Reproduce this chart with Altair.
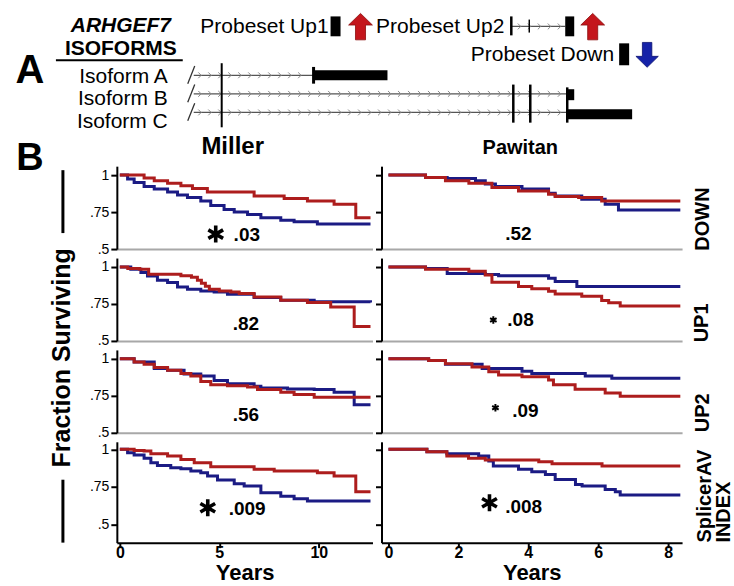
import altair as alt
import pandas as pd

FONT = "Liberation Sans"
RED = "#ad1d1d"
BLUE = "#1b1b84"

# ---------------- Panel B: Kaplan-Meier step data (years, fraction surviving) ----------------
miller_down_red_t  = [0, 1.22, 1.73, 2.40, 3.07, 3.65, 4.40, 6.75, 8.26, 9.43, 10.77, 11.86, 12.6]
miller_down_red_s  = [1, .980, .961, .945, .927, .909, .886, .859, .841, .825, .802, .711, .711]
miller_down_blue_t = [0, .39, .72, 1.22, 1.73, 2.40, 2.90, 3.40, 4.07, 4.57, 5.24, 5.75, 6.42, 7.09, 8.09, 8.76, 9.93, 12.6]
miller_down_blue_s = [1, .973, .950, .923, .905, .886, .866, .848, .825, .795, .768, .750, .734, .711, .695, .684, .670, .670]

pawitan_down_red_t  = [0, 1.06, 1.63, 2.30, 2.96, 3.72, 4.58, 4.77, 5.44, 6.10, 8.35]
pawitan_down_red_s  = [1, .984, .961, .945, .916, .893, .870, .855, .848, .825, .825]
pawitan_down_blue_t = [0, 1.06, 1.68, 2.49, 2.77, 3.06, 3.82, 4.58, 4.77, 5.53, 6.20, 6.58, 8.35]
pawitan_down_blue_s = [1, .984, .977, .961, .939, .923, .905, .877, .859, .836, .802, .764, .764]

miller_up1_red_t  = [0, .40, 1.00, 1.45, 3.07, 3.60, 3.90, 4.10, 4.30, 4.50, 5.00, 5.58, 6.00, 6.75, 8.09, 9.43, 10.60, 11.78, 12.6]
miller_up1_red_s  = [1, .990, .985, .950, .940, .930, .910, .890, .870, .850, .838, .831, .820, .797, .775, .759, .730, .597, .597]
miller_up1_blue_t = [0, .55, 1.06, 1.39, 1.89, 2.40, 2.90, 3.40, 4.07, 4.74, 5.41, 6.75, 8.09, 9.77, 12.6]
miller_up1_blue_s = [1, .984, .962, .939, .910, .894, .865, .849, .838, .831, .815, .793, .775, .764, .759]

pawitan_up1_red_t  = [0, 1.06, 2.30, 2.77, 2.96, 3.72, 4.10, 4.58, 4.77, 5.53, 6.10, 6.30, 6.63, 8.35]
pawitan_up1_red_s  = [1, .985, .971, .945, .896, .868, .852, .835, .817, .802, .773, .758, .736, .736]
pawitan_up1_blue_t = [0, 1.06, 1.68, 2.77, 3.15, 4.58, 4.77, 5.39, 8.35]
pawitan_up1_blue_s = [1, .989, .956, .949, .941, .923, .901, .868, .868]

miller_up2_red_t  = [0, .72, 1.22, 1.73, 2.40, 3.07, 3.57, 4.07, 4.57, 5.41, 6.42, 6.92, 8.09, 8.76, 9.77, 12.6]
miller_up2_red_s  = [1, .978, .963, .941, .923, .901, .884, .846, .825, .818, .809, .792, .774, .759, .741, .741]
miller_up2_blue_t = [0, .72, 1.73, 2.40, 3.23, 4.07, 4.74, 5.41, 6.75, 7.09, 8.43, 9.77, 10.77, 11.78, 12.6]
miller_up2_blue_s = [1, .978, .934, .923, .897, .884, .853, .831, .814, .803, .796, .792, .774, .689, .689]

pawitan_up2_red_t  = [0, 1.15, 1.63, 2.39, 2.87, 3.15, 3.82, 4.58, 4.72, 5.34, 6.20, 6.63, 8.35]
pawitan_up2_red_s  = [1, .989, .967, .945, .912, .890, .879, .857, .824, .795, .769, .747, .747]
pawitan_up2_blue_t = [0, 1.15, 1.63, 2.68, 3.82, 4.10, 5.63, 6.39, 8.35]
pawitan_up2_blue_s = [1, .989, .963, .934, .916, .901, .883, .868, .868]

miller_idx_red_t  = [0, .72, 1.22, 1.56, 2.40, 3.07, 3.74, 4.57, 6.75, 7.76, 9.93, 10.77, 11.86, 12.6]
miller_idx_red_s  = [1, .993, .989, .971, .956, .933, .911, .884, .867, .856, .844, .822, .718, .718]
miller_idx_blue_t = [0, .39, .72, 1.22, 1.56, 1.89, 2.56, 3.07, 3.57, 4.07, 4.41, 4.91, 5.75, 6.25, 7.09, 8.09, 8.76, 9.43, 12.6]
miller_idx_blue_s = [1, .978, .962, .940, .911, .893, .878, .871, .856, .844, .822, .796, .771, .756, .711, .689, .671, .656, .656]

pawitan_idx_red_t  = [0, 1.10, 1.67, 2.29, 2.77, 4.30, 4.68, 6.11, 8.35]
pawitan_idx_red_s  = [1, .984, .956, .940, .929, .918, .904, .889, .889]
pawitan_idx_blue_t = [0, 1.10, 1.67, 2.58, 2.87, 3.00, 3.72, 4.10, 4.49, 4.77, 5.35, 5.54, 6.20, 6.49, 6.63, 8.35]
pawitan_idx_blue_s = [1, .984, .971, .956, .922, .889, .867, .851, .833, .800, .767, .756, .733, .718, .696, .696]

# p-values (one per panel, row-major: Miller, Pawitan for DOWN, UP1, UP2, INDEX)
pval_labels = [".03", ".52", ".82", ".08", ".56", ".09", ".009", ".008"]
pval_t = [5.72, 3.34, 5.67, 3.40, 5.67, 3.54, 5.47, 3.34]
pval_s = [0.554, 0.561, 0.574, 0.601, 0.581, 0.608, 0.566, 0.579]
# significance stars
star_panel = [0, 3, 5, 6, 7]
star_t = [4.82, 3.00, 3.06, 4.42, 2.89]
star_s = [0.601, 0.642, 0.669, 0.612, 0.645]
star_big = [True, False, False, True, True]

miller_ticks = [0, 5, 10]
pawitan_ticks = [0, 2, 4, 6, 8]

ASTERISK = "M0,-1L0,1M-0.87,-0.5L0.87,0.5M-0.87,0.5L0.87,-0.5"
UP_ARROW = "M0,-1L0.9,-0.12L0.38,-0.12L0.38,1L-0.38,1L-0.38,-0.12L-0.9,-0.12Z"
DOWN_ARROW = "M0,1L0.9,0.12L0.38,0.12L0.38,-1L-0.38,-1L-0.38,0.12L-0.9,0.12Z"
CHEVRON = "M-0.45,-0.9L0.45,0L-0.45,0.9"

panels = [
    (miller_down_red_t, miller_down_red_s, miller_down_blue_t, miller_down_blue_s),
    (pawitan_down_red_t, pawitan_down_red_s, pawitan_down_blue_t, pawitan_down_blue_s),
    (miller_up1_red_t, miller_up1_red_s, miller_up1_blue_t, miller_up1_blue_s),
    (pawitan_up1_red_t, pawitan_up1_red_s, pawitan_up1_blue_t, pawitan_up1_blue_s),
    (miller_up2_red_t, miller_up2_red_s, miller_up2_blue_t, miller_up2_blue_s),
    (pawitan_up2_red_t, pawitan_up2_red_s, pawitan_up2_blue_t, pawitan_up2_blue_s),
    (miller_idx_red_t, miller_idx_red_s, miller_idx_blue_t, miller_idx_blue_s),
    (pawitan_idx_red_t, pawitan_idx_red_s, pawitan_idx_blue_t, pawitan_idx_blue_s),
]


def km_panel(i):
    red_t, red_s, blue_t, blue_s = panels[i]
    row, col = divmod(i, 2)
    bottom = row == 3
    left = col == 0
    xdom = [-0.15, 12.7] if left else [-0.2, 8.4]
    width = 256 if left else 301
    ydom = [0.38, 1.05] if bottom else [0.5, 1.06]
    height = 101 if bottom else 83
    xs = alt.Scale(domain=xdom, nice=False, zero=False)
    ys = alt.Scale(domain=ydom, nice=False, zero=False)
    if bottom:
        xa = alt.Axis(values=miller_ticks if left else pawitan_ticks, format="d", title="Years",
                      grid=False, domainColor="black", domainWidth=2, tickColor="black",
                      tickWidth=2, tickSize=5, labelFontSize=16, labelFontWeight="bold",
                      labelColor="black", labelPadding=-3, labelFont=FONT,
                      titleFont=FONT, titleFontSize=22, titleFontWeight="bold",
                      titleColor="black", titlePadding=2)
    else:
        xa = alt.Axis(labels=False, ticks=False, grid=False, title=None,
                      domainColor="#a8a8a8", domainWidth=2)
    ya = alt.Axis(values=[0.5, 0.75, 1], labels=left,
                  labelExpr="datum.value == 1 ? '1' : replace(toString(datum.value), '0.', '.')",
                  grid=False, title=None, domainColor="black", domainWidth=2,
                  tickColor="black", tickWidth=2, tickSize=6, labelFontSize=14,
                  labelFont=FONT, labelColor="black", labelPadding=2)

    def curve(t, s, color):
        return alt.Chart(pd.DataFrame({"t": t, "s": s})).mark_line(
            interpolate="step-after", color=color, strokeWidth=3
        ).encode(x=alt.X("t:Q", scale=xs, axis=xa), y=alt.Y("s:Q", scale=ys, axis=ya))

    layers = [curve(blue_t, blue_s, BLUE), curve(red_t, red_s, RED)]
    pv = pd.DataFrame({"t": [pval_t[i]], "s": [pval_s[i]], "label": [pval_labels[i]]})
    layers.append(alt.Chart(pv).mark_text(align="left", baseline="alphabetic", font=FONT,
                                          fontSize=19, fontWeight="bold", color="black")
                  .encode(x=alt.X("t:Q", scale=xs), y=alt.Y("s:Q", scale=ys), text="label:N"))
    if i in star_panel:
        k = star_panel.index(i)
        st = pd.DataFrame({"t": [star_t[k]], "s": [star_s[k]],
                           "sz": [289 if star_big[k] else 56],
                           "sw": [3.6 if star_big[k] else 2.0]})
        layers.append(alt.Chart(st).mark_point(shape=ASTERISK, filled=False, color="black",
                                               opacity=1)
                      .encode(x=alt.X("t:Q", scale=xs), y=alt.Y("s:Q", scale=ys),
                              size=alt.Size("sz:Q", scale=None, legend=None),
                              strokeWidth=alt.StrokeWidth("sw:Q", scale=None, legend=None)))
    return alt.layer(*layers).properties(width=width, height=height)


# ---------------- Panel A: isoform schematic (positions in schematic units) ----------------
iso_row = [0, 1, 2]
iso_names = ["Isoform A", "Isoform B", "Isoform C"]
intron_u1 = [15.4, 15.4, 15.4, 79.0]
intron_u2 = [39.4, 90.2, 90.2, 89.8]
intron_row = [0, 1, 2, -2.63]
chev_start = [16.6, 16.6, 16.6, 80.6]
exon_u1 = [39.4, 90.2, 90.2, 42.8, 89.8, 100.6]
exon_u2 = [54.2, 91.6, 103.2, 44.8, 91.6, 102.6]
exon_r1 = [-0.27, 0.75, 1.83, -3.17, -3.17, -1.72]
exon_r2 = [0.27, 1.34, 2.37, -2.10, -2.10, -0.54]
mark_u = [21.0, 79.4, 82.8, 90.2, 39.4, 79.0, 82.6]
mark_r1 = [-0.65, 0.50, 0.50, 0.65, -0.45, -3.17, -3.00]
mark_r2 = [2.80, 2.55, 2.55, 2.55, 0.45, -2.15, -2.30]
mark_w = [2.0, 2.5, 2.5, 2.5, 3.0, 2.5, 1.5]

chev_u, chev_r = [], []
for a, b, r in zip(chev_start, intron_u2, intron_row):
    u = a
    while u < b - 0.8:
        chev_u.append(u)
        chev_r.append(r)
        u += 2.0

XS_A = alt.Scale(domain=[0, 113.2], range=[0, 566])
YS_A = alt.Scale(domain=[-3.871, 4.409], range=[0, 154])


def AX(f):
    return alt.X(f, type="quantitative", scale=XS_A, axis=None)


def AY(f):
    return alt.Y(f, type="quantitative", scale=YS_A, axis=None)


anchor = alt.Chart(pd.DataFrame({"a": [0]})).mark_rule(color="white", strokeWidth=0.1).encode(
    x=alt.value(-116), x2=alt.value(-114), y=alt.value(0), y2=alt.value(0))

introns = alt.Chart(pd.DataFrame({"u1": intron_u1, "u2": intron_u2, "r": intron_row})).mark_rule(
    color="#555555", strokeWidth=1.3).encode(x=AX("u1"), x2="u2:Q", y=AY("r"))

chevrons = alt.Chart(pd.DataFrame({"u": chev_u, "r": chev_r})).mark_point(
    shape=CHEVRON, filled=False, color="#8a8a8a", strokeWidth=1, size=42, opacity=1
).encode(x=AX("u"), y=AY("r"))

slashes = alt.Chart(pd.DataFrame({"u1": [14.2] * 3, "u2": [15.6] * 3,
                                  "r1": [r + 0.45 for r in iso_row],
                                  "r2": [r - 0.5 for r in iso_row]})).mark_rule(
    color="#333333", strokeWidth=1.3).encode(x=AX("u1"), x2="u2:Q", y=AY("r1"), y2="r2:Q")

markers = alt.Chart(pd.DataFrame({"u": mark_u, "r1": mark_r1, "r2": mark_r2, "w": mark_w})).mark_rule(
    color="black").encode(x=AX("u"), y=AY("r1"), y2="r2:Q",
                          strokeWidth=alt.StrokeWidth("w:Q", scale=None, legend=None))

exons = alt.Chart(pd.DataFrame({"u1": exon_u1, "u2": exon_u2, "r1": exon_r1, "r2": exon_r2})).mark_rect(
    color="black").encode(x=AX("u1"), x2="u2:Q", y=AY("r1"), y2="r2:Q")

up_arrows = alt.Chart(pd.DataFrame({"u": [48.8, 95.3], "r": [-2.62, -2.62]})).mark_point(
    shape=UP_ARROW, filled=True, color="#c4161c", stroke="#8a0e0e", strokeWidth=0.8,
    size=700, opacity=1).encode(x=AX("u"), y=AY("r"))

down_arrows = alt.Chart(pd.DataFrame({"u": [106.2], "r": [-1.1]})).mark_point(
    shape=DOWN_ARROW, filled=True, color="#1522a8", stroke="#0b1170", strokeWidth=0.8,
    size=620, opacity=1).encode(x=AX("u"), y=AY("r"))

reg_text = ["Isoform A", "Isoform B", "Isoform C", "Probeset Up1", "Probeset Up2", "Probeset Down"]
reg_u = [10.2, 10.2, 10.2, 42.4, 77.6, 99.6]
reg_r = [0.43, 1.61, 2.85, -2.26, -2.26, -0.75]
regular = alt.Chart(pd.DataFrame({"u": reg_u, "r": reg_r, "label": reg_text})).mark_text(
    align="right", baseline="alphabetic", font=FONT, fontSize=21, color="black"
).encode(x=AX("u"), y=AY("r"), text="label:N")

bold_text = ["ISOFORMS", "A", "B", "Miller", "Pawitan"]
bold_u = [0.8, -17.4, -17.4, 23.2, 80.8]
bold_r = [-1.10, 0.43, 5.11, 4.22, 4.22]
bold_fs = [21, 40, 38, 24, 20]
bold = alt.Chart(pd.DataFrame({"u": bold_u, "r": bold_r, "label": bold_text, "fs": bold_fs})).mark_text(
    align="center", baseline="alphabetic", font=FONT, fontWeight="bold", color="black"
).encode(x=AX("u"), y=AY("r"), text="label:N", size=alt.Size("fs:Q", scale=None, legend=None))

gene = alt.Chart(pd.DataFrame({"u": [0.8], "r": [-2.31], "label": ["ARHGEF7"]})).mark_text(
    align="center", baseline="alphabetic", font=FONT, fontSize=21, fontWeight="bold",
    fontStyle="italic", color="black").encode(x=AX("u"), y=AY("r"), text="label:N")

vert_text = ["Fraction Surviving", "DOWN", "UP1", "UP2"]
vert_u = [-11.0, 117.4, 117.2, 117.4]
vert_r = [15.215, 7.74, 13.33, 18.17]
vert_fs = [25, 20, 20, 20]
vertical = alt.Chart(pd.DataFrame({"u": vert_u, "r": vert_r, "label": vert_text, "fs": vert_fs})).mark_text(
    align="center", baseline="middle", angle=270, font=FONT, fontWeight="bold", color="black"
).encode(x=AX("u"), y=AY("r"), text="label:N", size=alt.Size("fs:Q", scale=None, legend=None))

index_text = alt.Chart(pd.DataFrame({"u": [117.8, 121.6], "r": [25.16, 25.16],
                                     "label": ["SplicerAV", "INDEX"]})).mark_text(
    align="left", baseline="middle", angle=270, font=FONT, fontSize=20, fontWeight="bold",
    color="black").encode(x=AX("u"), y=AY("r"), text="label:N")

line_u1 = [-10.8, -10.8, -12.2]
line_u2 = [-10.8, -10.8, 13.2]
line_r1 = [5.108, 21.774, -0.806]
line_r2 = [8.495, 25.161, -0.806]
line_w = [3, 3, 2]
deco_lines = alt.Chart(pd.DataFrame({"u1": line_u1, "u2": line_u2, "r1": line_r1, "r2": line_r2,
                                     "w": line_w})).mark_rule(color="black").encode(
    x=AX("u1"), x2="u2:Q", y=AY("r1"), y2="r2:Q",
    strokeWidth=alt.StrokeWidth("w:Q", scale=None, legend=None))

panel_a = alt.layer(anchor, introns, chevrons, slashes, markers, exons, up_arrows, down_arrows,
                    regular, bold, gene, vertical, index_text, deco_lines).properties(width=256, height=154)

empty = alt.Chart(pd.DataFrame({"a": [0]})).mark_point(opacity=0).encode(
    x=alt.value(0), y=alt.value(0)).properties(width=301, height=154)

chart = alt.concat(panel_a, empty, *[km_panel(i) for i in range(8)],
                   columns=2, spacing=9, bounds="flush").properties(padding=0).configure_view(
    stroke=None).configure_axis(labelFont=FONT, titleFont=FONT)

chart.save("out.html", embed_options={"renderer": "svg", "actions": False})
